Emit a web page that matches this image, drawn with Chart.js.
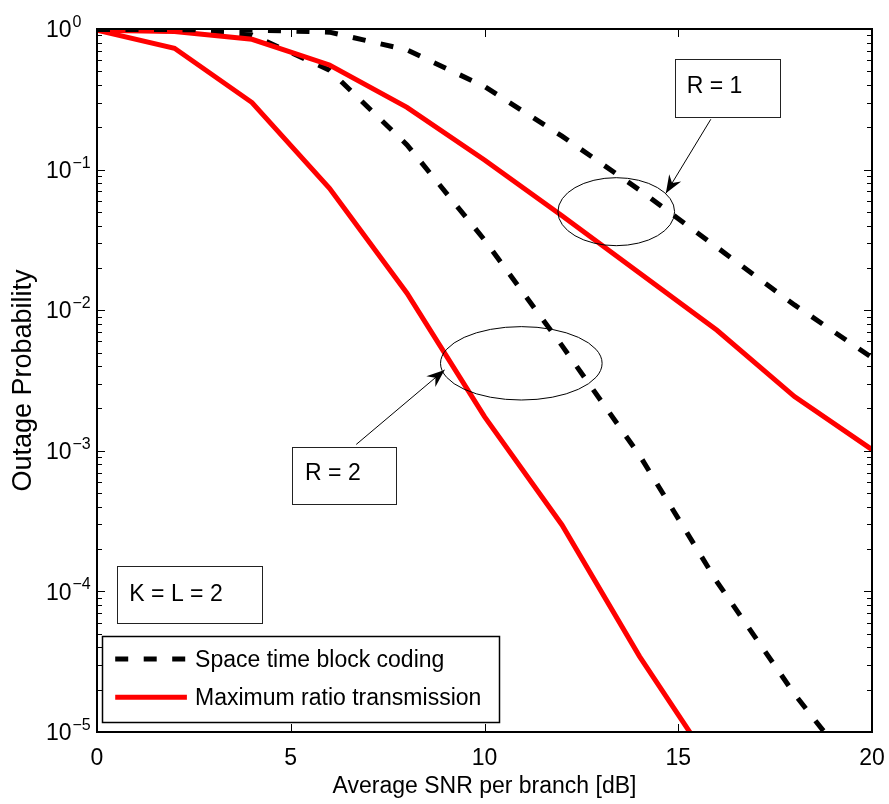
<!DOCTYPE html>
<html><head><meta charset="utf-8">
<script src="https://cdn.jsdelivr.net/npm/chart.js@4.4.0/dist/chart.umd.min.js"></script>
<style>html,body{margin:0;padding:0;background:#fff}#wrap{width:889px;height:804px}</style>
</head><body><div id="wrap"><canvas id="c" width="889" height="804"></canvas></div>
<script>
// ---- data ----
const snr = [0, 2, 4, 6, 8, 10, 12, 14, 16, 18, 20];
const stbcR1 = [0.99, 0.99, 0.985, 0.95, 0.71, 0.39, 0.173, 0.0716, 0.028, 0.0109, 0.0046];
const mrtR1  = [0.98, 0.96, 0.845, 0.555, 0.277, 0.117, 0.047, 0.0184, 0.0072, 0.00243, 0.00102];
const stbcR2 = [0.99, 0.97, 0.906, 0.51, 0.15, 0.0316, 0.0056, 0.00093, 0.000117, 0.0000186, 0.0000037];
const mrtR2  = [0.98, 0.73, 0.30, 0.0736, 0.0132, 0.00175, 0.000297, 0.0000345, 0.0000051, null, null];
const xTickValues = [0, 5, 10, 15, 20];
const yDecades = [0, -1, -2, -3, -4, -5];
const seriesNames = ['Space time block coding', 'Maximum ratio transmission'];
const xTitle = 'Average SNR per branch [dB]';
const yTitle = 'Outage Probability';

// ---- annotations (data coordinates) ----
const noteBoxes = [
  {text: 'R = 1', box: [14.91, 0.609, 17.61, 0.2355], at: [15.22, 0.40]},
  {text: 'R = 2', box: [5.03, 0.00107, 7.71, 0.000418], at: [5.37, 0.00071]},
  {text: 'K = L = 2', box: [0.51, 0.000152, 4.25, 0.0000596], at: [0.835, 0.0000975]}
];
const noteArrows = [
  [15.84, 0.228, 14.68, 0.0678],
  [6.69, 0.00111, 8.97, 0.00376]
];
const noteEllipses = [
  [13.40, 0.0502, 1.506, 0.2418],
  [10.95, 0.00419, 2.085, 0.261]
];
const legendBox = [0.12, 0.0000484, 10.37, 0.0000118];
const legendRows = [0.0000330, 0.0000177];
const legendLineX = [0.47, 2.32, 2.53];

const FONT = '"Liberation Sans", Arial, Helvetica, sans-serif';
const FS = 23;
const DASH = [13, 15.5];

function pts(arr) { return snr.map((x, i) => ({x: x, y: arr[i]})); }

const datasets = [
  {label: seriesNames[0], data: pts(stbcR1), borderColor: '#000', borderDash: DASH, borderWidth: 5},
  {label: seriesNames[1], data: pts(mrtR1), borderColor: '#ff0000', borderWidth: 5},
  {label: seriesNames[0], data: pts(stbcR2), borderColor: '#000', borderDash: DASH, borderWidth: 5},
  {label: seriesNames[1], data: pts(mrtR2), borderColor: '#ff0000', borderWidth: 5}
].map(d => Object.assign(d, {fill: false, pointRadius: 0, tension: 0, clip: 0, borderCapStyle: 'butt', borderJoinStyle: 'miter'}));

function arrow(ctx, x1, y1, x2, y2) {
  ctx.beginPath(); ctx.moveTo(x1, y1); ctx.lineTo(x2, y2); ctx.stroke();
  const dx = x2 - x1, dy = y2 - y1, len = Math.hypot(dx, dy), ux = dx / len, uy = dy / len, nx = -uy, ny = ux;
  const L = 18, W = 7, N = 12;
  ctx.beginPath(); ctx.moveTo(x2, y2);
  ctx.lineTo(x2 - ux * L + nx * W, y2 - uy * L + ny * W);
  ctx.lineTo(x2 - ux * N, y2 - uy * N);
  ctx.lineTo(x2 - ux * L - nx * W, y2 - uy * L - ny * W);
  ctx.closePath(); ctx.fill();
}

const decor = {
  id: 'decor',
  afterDatasetsDraw(chart) {
    const ctx = chart.ctx, xs = chart.scales.x, ys = chart.scales.y;
    const px = v => xs.getPixelForValue(v), py = v => ys.getPixelForValue(v);
    const pxPerDecade = py(0.1) - py(1);
    ctx.save();
    ctx.strokeStyle = '#000'; ctx.fillStyle = '#000'; ctx.lineWidth = 1;
    noteEllipses.forEach(e => {
      const cx = px(e[0]), cy = py(e[1]);
      const rx = px(e[0] + e[2]) - cx, ry = e[3] * pxPerDecade;
      ctx.beginPath(); ctx.ellipse(cx, cy, rx, ry, 0, 0, Math.PI * 2); ctx.stroke();
    });
    noteArrows.forEach(a => arrow(ctx, px(a[0]), py(a[1]), px(a[2]), py(a[3])));
    ctx.font = FS + 'px ' + FONT; ctx.textBaseline = 'alphabetic'; ctx.textAlign = 'left';
    noteBoxes.forEach(b => {
      const x1 = px(b.box[0]), y1 = py(b.box[1]), x2 = px(b.box[2]), y2 = py(b.box[3]);
      ctx.fillStyle = '#fff'; ctx.fillRect(x1, y1, x2 - x1, y2 - y1);
      ctx.strokeStyle = '#222'; ctx.strokeRect(Math.round(x1) + 0.5, Math.round(y1) + 0.5, Math.round(x2 - x1), Math.round(y2 - y1));
      ctx.fillStyle = '#000';
      ctx.fillText(b.text, px(b.at[0]), py(b.at[1]) + 0.358 * FS);
    });
    const lx1 = px(legendBox[0]), ly1 = py(legendBox[1]), lx2 = px(legendBox[2]), ly2 = py(legendBox[3]);
    ctx.fillStyle = '#fff'; ctx.fillRect(lx1, ly1, lx2 - lx1, ly2 - ly1);
    ctx.strokeStyle = '#000'; ctx.lineWidth = 1.5;
    ctx.strokeRect(Math.round(lx1) + 0.5, Math.round(ly1) + 0.5, Math.round(lx2 - lx1), Math.round(ly2 - ly1));
    [0, 1].forEach(i => {
      const ds = chart.data.datasets[i];
      const y = py(legendRows[i]);
      ctx.save();
      ctx.strokeStyle = ds.borderColor; ctx.lineWidth = ds.borderWidth; ctx.setLineDash(ds.borderDash || []);
      ctx.lineCap = 'butt';
      ctx.beginPath(); ctx.moveTo(px(legendLineX[0]), y); ctx.lineTo(px(legendLineX[1]), y); ctx.stroke();
      ctx.restore();
      ctx.fillStyle = '#000';
      ctx.fillText(ds.label, px(legendLineX[2]), y + 0.358 * FS);
    });
    ctx.restore();
  },
  afterDraw(chart) {
    const ctx = chart.ctx, xs = chart.scales.x, ys = chart.scales.y, a = chart.chartArea;
    ctx.save();
    ctx.strokeStyle = '#000';
    ctx.lineWidth = 1;
    xTickValues.forEach(v => {
      const x = Math.round(xs.getPixelForValue(v)) + 0.5;
      ctx.beginPath(); ctx.moveTo(x, a.bottom); ctx.lineTo(x, a.bottom - 8);
      ctx.moveTo(x, a.top); ctx.lineTo(x, a.top + 8); ctx.stroke();
    });
    yDecades.forEach(e => {
      for (let m = 1; m <= 9; m++) {
        const v = m * Math.pow(10, e);
        if (v > 1 + 1e-9 || v < 1e-5 - 1e-12) continue;
        const y = Math.round(ys.getPixelForValue(v)) + 0.5;
        const len = m === 1 ? 8 : 5;
        ctx.beginPath(); ctx.moveTo(a.left, y); ctx.lineTo(a.left + len, y);
        ctx.moveTo(a.right, y); ctx.lineTo(a.right - len, y); ctx.stroke();
      }
    });
    ctx.lineWidth = 2;
    ctx.strokeRect(a.left, a.top, a.right - a.left, a.bottom - a.top);
    ctx.fillStyle = '#000'; ctx.textBaseline = 'alphabetic';
    yDecades.forEach(e => {
      const y = ys.getPixelForValue(Math.pow(10, e));
      ctx.font = FS + 'px ' + FONT; ctx.textAlign = 'right';
      ctx.fillText('10', 71.5, y + 0.358 * FS);
      ctx.font = '16px ' + FONT; ctx.textAlign = 'left';
      ctx.fillText(e === 0 ? '0' : '\u2212' + Math.abs(e), 72.5, y - 2);
    });
    ctx.restore();
  }
};

new Chart(document.getElementById('c'), {
  type: 'line',
  data: {datasets: datasets},
  options: {
    responsive: false, animation: false, devicePixelRatio: 1,
    layout: {padding: {top: 29, right: 17, left: 0, bottom: 0}},
    plugins: {legend: {display: false}, tooltip: {enabled: false}},
    scales: {
      x: {
        type: 'linear', min: 0, max: 20,
        afterFit: s => { s.height = 72; s.paddingLeft = 0; s.paddingRight = 0; },
        grid: {display: false, drawTicks: false}, border: {display: false},
        ticks: {stepSize: 5, color: '#000', font: {family: FONT, size: FS}, padding: 13, maxRotation: 0,
                callback: v => xTickValues.includes(v) ? String(v) : ''},
        title: {display: true, text: xTitle, color: '#000', font: {family: FONT, size: FS}, padding: {top: 0, bottom: 4}}
      },
      y: {
        type: 'logarithmic', min: 1e-5, max: 1,
        afterFit: s => { s.width = 97; s.paddingTop = 0; s.paddingBottom = 0; },
        grid: {display: false, drawTicks: false}, border: {display: false},
        ticks: {display: false},
        title: {display: true, text: yTitle, color: '#000', font: {family: FONT, size: 27}, padding: {top: 7, bottom: 0}}
      }
    }
  },
  plugins: [decor]
});
</script>
</body></html>
